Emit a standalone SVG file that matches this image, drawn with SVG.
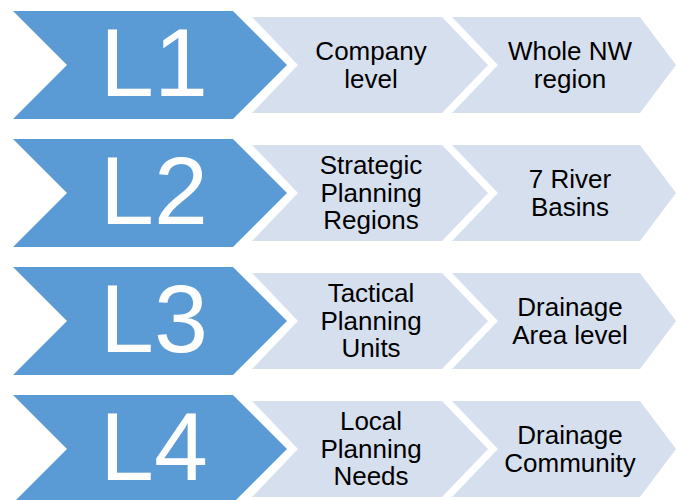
<svg xmlns="http://www.w3.org/2000/svg" xmlns:xlink="http://www.w3.org/1999/xlink" width="676" height="500" viewBox="0 0 676 500">
  <style>
    .lvl { fill: #5B9BD5; }
    .step { fill: #D5DFEE; }
    .big { font-family: "Liberation Sans", Arial, sans-serif; font-size: 97px; fill: #FFFFFF; text-anchor: middle; }
    .lbl { font-family: "Liberation Sans", Arial, sans-serif; font-size: 26px; fill: #000000; text-anchor: middle; }
  </style>
  <defs>
    <!-- shapes drawn around a row centre line at y=0 -->
    <polygon id="lvlShape" points="13,-54 233,-54 287,0 233,54 13,54 67,0"/>
    <polygon id="step1Shape" points="252,-48 442,-48 488,0 442,48 252,48 298,0"/>
    <polygon id="step2Shape" points="452,-48 640,-48 676,0 640,48 452,48 498,0"/>
  </defs>
  <rect width="676" height="500" fill="#FFFFFF"/>

  <!-- Row 1 -->
  <g id="row1" transform="translate(0,65)">
    <g id="l1-a"><use xlink:href="#step1Shape" class="step"/>
      <text class="lbl" x="371" y="-5">Company</text>
      <text class="lbl" x="371" y="22.5">level</text></g>
    <g id="l1-b"><use xlink:href="#step2Shape" class="step"/>
      <text class="lbl" x="570" y="-5">Whole NW</text>
      <text class="lbl" x="570" y="22.5">region</text></g>
    <g id="l1"><use xlink:href="#lvlShape" class="lvl"/>
      <text class="big" x="154" y="31">L1</text></g>
  </g>

  <!-- Row 2 -->
  <g id="row2" transform="translate(0,193)">
    <g id="l2-a"><use xlink:href="#step1Shape" class="step"/>
      <text class="lbl" x="371" y="-19">Strategic</text>
      <text class="lbl" x="371" y="8.5">Planning</text>
      <text class="lbl" x="371" y="36">Regions</text></g>
    <g id="l2-b"><use xlink:href="#step2Shape" class="step"/>
      <text class="lbl" x="570" y="-5">7 River</text>
      <text class="lbl" x="570" y="22.5">Basins</text></g>
    <g id="l2"><use xlink:href="#lvlShape" class="lvl"/>
      <text class="big" x="154" y="31">L2</text></g>
  </g>

  <!-- Row 3 -->
  <g id="row3" transform="translate(0,321)">
    <g id="l3-a"><use xlink:href="#step1Shape" class="step"/>
      <text class="lbl" x="371" y="-19">Tactical</text>
      <text class="lbl" x="371" y="8.5">Planning</text>
      <text class="lbl" x="371" y="36">Units</text></g>
    <g id="l3-b"><use xlink:href="#step2Shape" class="step"/>
      <text class="lbl" x="570" y="-5">Drainage</text>
      <text class="lbl" x="570" y="22.5">Area level</text></g>
    <g id="l3"><use xlink:href="#lvlShape" class="lvl"/>
      <text class="big" x="154" y="31">L3</text></g>
  </g>

  <!-- Row 4 -->
  <g id="row4" transform="translate(0,449)">
    <g id="l4-a"><use xlink:href="#step1Shape" class="step"/>
      <text class="lbl" x="371" y="-19">Local</text>
      <text class="lbl" x="371" y="8.5">Planning</text>
      <text class="lbl" x="371" y="36">Needs</text></g>
    <g id="l4-b"><use xlink:href="#step2Shape" class="step"/>
      <text class="lbl" x="570" y="-5">Drainage</text>
      <text class="lbl" x="570" y="22.5">Community</text></g>
    <g id="l4"><use xlink:href="#lvlShape" class="lvl"/>
      <text class="big" x="154" y="31">L4</text></g>
  </g>
</svg>
